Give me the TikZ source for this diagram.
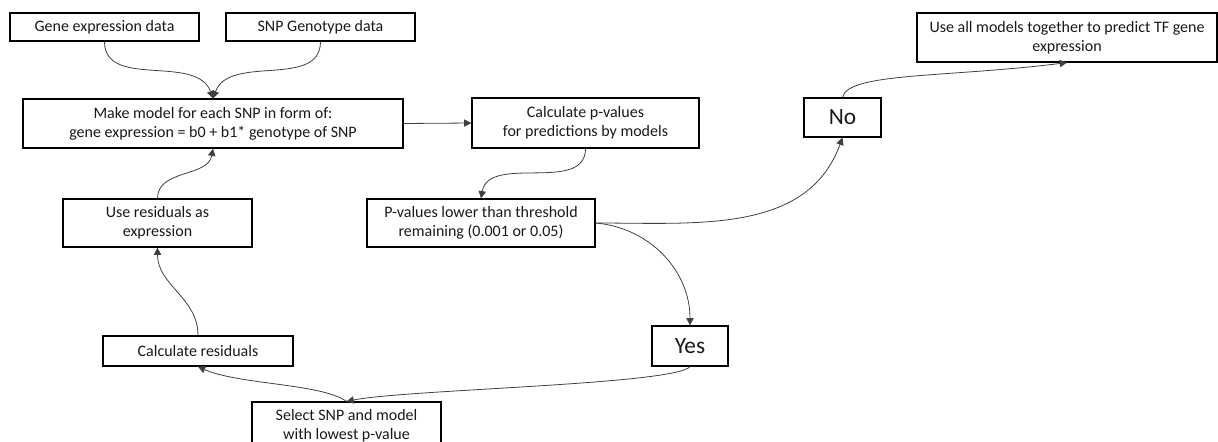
\documentclass[tikz,border=0pt]{standalone}
\usepackage{fontspec}
\setmainfont{Carlito}
\usetikzlibrary{arrows.meta}
\begin{document}
\begin{tikzpicture}[x=0.75pt,y=0.75pt,
  box/.style={draw=black, line width=0.9pt, inner sep=0pt, align=center, font=\fontsize{12}{14}\selectfont, text=black!90},
  big/.style={box, font=\fontsize{17.5}{20}\selectfont},
  link/.style={draw=black!75, line width=0.6pt, -{Triangle[length=5.5pt,width=5.5pt]}}]
\useasboundingbox (0,0) rectangle (1218,-442);
\node[box, minimum width=141.75pt, minimum height=21pt] (gene) at (104.5,-27) {Gene expression data};
\node[box, minimum width=141.75pt, minimum height=21pt] (snp) at (320.5,-27) {SNP Genotype data};
\node[box, minimum width=285pt, minimum height=36.75pt] (model) at (213,-123.5) {Make model for each SNP in form of:\\gene expression = b0 + b1* genotype of SNP};
\node[box, minimum width=170.25pt, minimum height=37.5pt] (calcp) at (585.5,-123) {Calculate p-values\\for predictions by models};
\node[box, minimum width=171pt, minimum height=36pt] (pval) at (481,-223) {P-values lower than threshold\\remaining (0.001 or 0.05)};
\node[big, minimum width=57.75pt, minimum height=29.25pt] (no) at (842.5,-117.5) {No};
\node[box, minimum width=225pt, minimum height=36.75pt] (all) at (1067,-37.5) {Use all models together to predict TF gene\\expression};
\node[box, minimum width=141.75pt, minimum height=36pt] (useres) at (157.5,-223) {Use residuals as\\expression};
\node[box, minimum width=142.5pt, minimum height=22.5pt] (calcres) at (198,-351) {Calculate residuals};
\node[big, minimum width=57pt, minimum height=30pt] (yes) at (690,-346) {Yes};
\node[box, minimum width=141.75pt, minimum height=36pt] (select) at (346.5,-426) {Select SNP and model\\with lowest p-value};

\draw[link] (gene.south) to[out=-90,in=110] (model.north);
\draw[link] (snp.south) to[out=-90,in=70] (model.north);
\draw[link] (model.east) -- (calcp.west);
\draw[link] (calcp.south) to[out=-90,in=80] (pval.north);
\draw[link] (pval.east) to[out=0,in=-110] (no.south);
\draw[link] (pval.east) to[out=-5,in=90] (yes.north);
\draw[link] (no.north) .. controls +(5,25) and +(-120,-15) .. (all.south);
\draw[link] (yes.south) .. controls +(-15,-18) and +(60,12) .. (select.north);
\draw[link] (select.north) .. controls +(-25,18) and +(40,-18) .. (calcres.south);
\draw[link] (calcres.north) to[out=90,in=-90] (useres.south);
\draw[link] (useres.north) to[out=90,in=-100] (model.south);
\end{tikzpicture}
\end{document}
